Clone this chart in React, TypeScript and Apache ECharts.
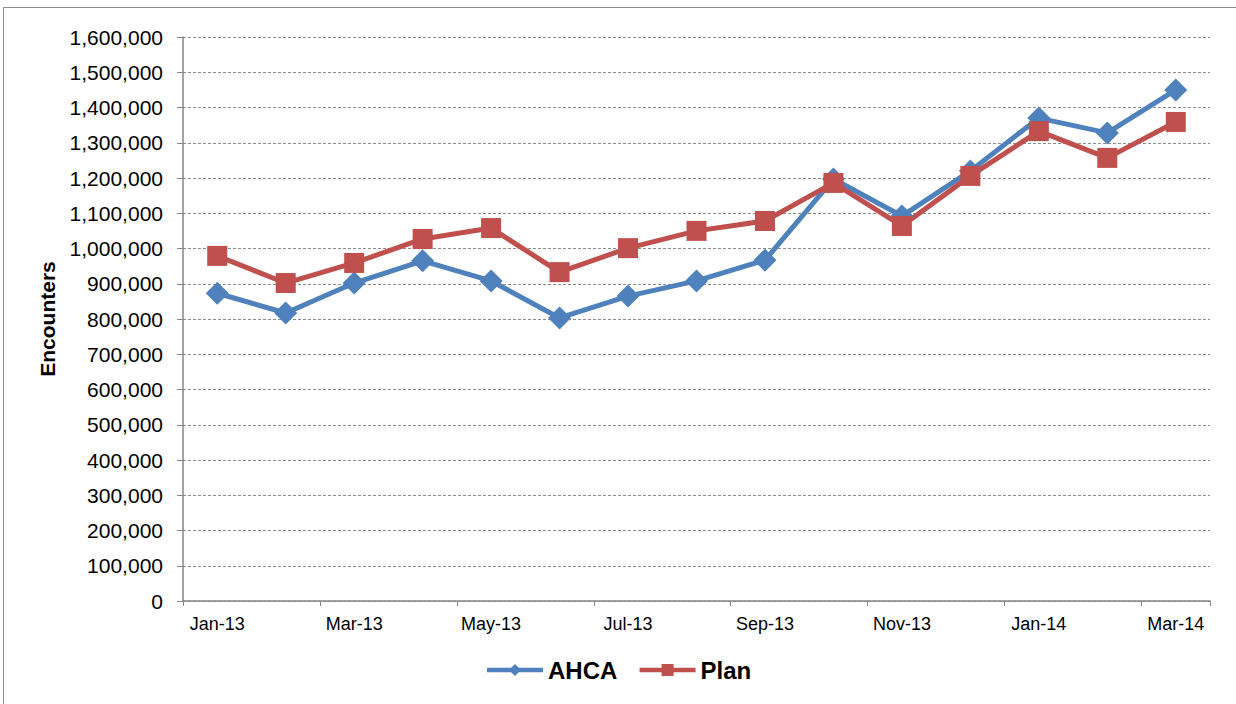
import React, { useEffect, useRef } from "react";
import * as echarts from "echarts";

const categories = ["Jan-13","Feb-13","Mar-13","Apr-13","May-13","Jun-13","Jul-13","Aug-13","Sep-13","Oct-13","Nov-13","Dec-13","Jan-14","Feb-14","Mar-14"];
const ahca = [873000, 817000, 902000, 965000, 908000, 803000, 865000, 908000, 967000, 1197000, 1092000, 1220000, 1370000, 1328000, 1450000];
const plan = [979000, 902000, 959000, 1027000, 1058000, 933000, 1001000, 1050000, 1078000, 1186000, 1064000, 1206000, 1333000, 1257000, 1359000];

export default function App() {
  const ref = useRef<HTMLDivElement>(null);
  useEffect(() => {
    if (!ref.current) return;
    const chart = echarts.init(ref.current, null, { renderer: "svg" });
    const font = "'Liberation Sans', Arial, sans-serif";
    chart.setOption({
      animation: false,
      backgroundColor: "#fff",
      graphic: [
        { type: "rect", shape: { x: 3.5, y: 7.5, width: 1240, height: 720 }, style: { fill: "none", stroke: "#8c8c8c", lineWidth: 1 }, silent: true },
      ],
      grid: { left: 183, right: 26, top: 37, bottom: 103 },
      legend: {
        top: 653,
        left: "center",
        itemWidth: 56,
        itemHeight: 15,
        itemGap: 20,
        lineStyle: { width: 4.5 },
        textStyle: { fontFamily: font, fontSize: 24, fontWeight: "bold", color: "#000" },
        data: ["AHCA", "Plan"],
      },
      xAxis: {
        type: "category",
        data: categories,
        boundaryGap: true,
        axisLine: { lineStyle: { color: "#868686", width: 1.5 } },
        axisTick: { show: true, interval: 1, length: 5, lineStyle: { color: "#868686" } },
        axisLabel: { interval: 1, margin: 14, fontFamily: font, fontSize: 18, color: "#000" },
      },
      yAxis: {
        type: "value",
        min: 0,
        max: 1600000,
        interval: 100000,
        name: "Encounters",
        nameLocation: "middle",
        nameGap: 125,
        nameTextStyle: { fontFamily: font, fontSize: 21, fontWeight: "bold", color: "#000" },
        axisLine: { show: true, lineStyle: { color: "#868686", width: 1.5 } },
        axisTick: { show: true, length: 6, lineStyle: { color: "#868686" } },
        axisLabel: {
          margin: 20,
          fontFamily: font,
          fontSize: 21,
          color: "#000",
          formatter: (v: number) => v.toLocaleString("en-US"),
        },
        splitLine: { show: true, lineStyle: { color: "#8c8c8c", type: [3, 2], width: 1 } },
      },
      series: [
        {
          name: "AHCA",
          type: "line",
          data: ahca,
          symbol: "diamond",
          symbolSize: 23,
          lineStyle: { width: 5, color: "#4F81BD" },
          itemStyle: { color: "#4F81BD" },
        },
        {
          name: "Plan",
          type: "line",
          data: plan,
          symbol: "rect",
          symbolSize: 20,
          lineStyle: { width: 5, color: "#C0504D" },
          itemStyle: { color: "#C0504D" },
        },
      ],
    });
    return () => chart.dispose();
  }, []);
  return <div ref={ref} style={{ position: "absolute", left: 0, top: 0, width: 1236, height: 704 }} />;
}
